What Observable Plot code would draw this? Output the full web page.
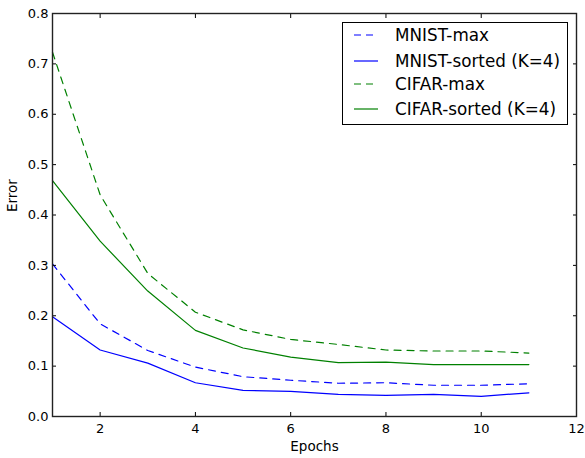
<!DOCTYPE html>
<html>
<head>
<meta charset="utf-8">
<script src="https://cdn.jsdelivr.net/npm/d3@7"></script>
<script src="https://cdn.jsdelivr.net/npm/@observablehq/plot@0.6"></script>
<style>
  html, body { margin: 0; padding: 0; background: #fff; }
  #wrap { position: relative; width: 585px; height: 458px; font-family: "DejaVu Sans", sans-serif; }
  #legend { position: absolute; left: 342px; top: 22px; width: 224px; height: 101px; border: 1px solid #000; background: #fff; box-sizing: content-box; }
  .row { position: absolute; left: 0; height: 20px; display: flex; align-items: center; }
  .row svg { margin-left: 11px; }
  .row span { margin-left: 17px; font-size: 16.8px; color: #000; white-space: nowrap; }
</style>
</head>
<body>
<div id="wrap"></div>
<script>
const epochs = [1, 2, 3, 4, 5, 6, 7, 8, 9, 10, 11];
const mnistMax    = [0.303, 0.184, 0.131, 0.098, 0.079, 0.072, 0.066, 0.067, 0.062, 0.062, 0.065];
const mnistSorted = [0.198, 0.132, 0.106, 0.067, 0.052, 0.050, 0.044, 0.042, 0.044, 0.040, 0.047];
const cifarMax    = [0.723, 0.440, 0.284, 0.207, 0.172, 0.153, 0.143, 0.132, 0.130, 0.130, 0.126];
const cifarSorted = [0.468, 0.348, 0.249, 0.171, 0.136, 0.118, 0.107, 0.108, 0.103, 0.103, 0.103];
const seriesNames = ["MNIST-max", "MNIST-sorted (K=4)", "CIFAR-max", "CIFAR-sorted (K=4)"];
const seriesColors = ["#0000ff", "#0000ff", "#008000", "#008000"];
const seriesDashed = [true, false, true, false];
const xTicks = [2, 4, 6, 8, 10, 12];
const yTicks = [0, 0.1, 0.2, 0.3, 0.4, 0.5, 0.6, 0.7, 0.8];

const seriesValues = [mnistMax, mnistSorted, cifarMax, cifarSorted];
const rows = [];
seriesValues.forEach((vals, s) => vals.forEach((v, i) => rows.push({series: seriesNames[s], epoch: epochs[i], error: v})));

const lineMarks = seriesNames.map((name, s) =>
  Plot.line(rows.filter(d => d.series === name), {
    x: "epoch", y: "error",
    stroke: seriesColors[s], strokeWidth: 1.2,
    strokeDasharray: seriesDashed[s] ? "7,6" : null
  })
);

const chart = Plot.plot({
  width: 585, height: 458,
  marginLeft: 52, marginRight: 9, marginTop: 13, marginBottom: 42,
  style: {fontFamily: "DejaVu Sans, sans-serif", fontSize: "13px", color: "#000", background: "#fff"},
  x: {domain: [1, 12]},
  y: {domain: [0, 0.8]},
  marks: [
    ...lineMarks,
    Plot.axisX({anchor: "bottom", ticks: xTicks, tickSize: -4, tickPadding: 11, tickFormat: d3.format("d"), label: null, fontSize: 13}),
    Plot.axisX({anchor: "top", ticks: xTicks, tickSize: -4, tickFormat: () => "", label: null}),
    Plot.axisY({anchor: "left", ticks: yTicks, tickSize: -4, tickPadding: 8, tickFormat: d3.format(".1f"), label: null, fontSize: 13}),
    Plot.axisY({anchor: "right", ticks: yTicks, tickSize: -4, tickFormat: () => "", label: null}),
    Plot.frame({stroke: "#222", strokeWidth: 1.4}),
    Plot.text(["Epochs"], {frameAnchor: "bottom", dy: 34, fontSize: 13.5, fill: "#000"}),
    Plot.text(["Error"], {frameAnchor: "left", dx: -40, dy: -3, rotate: -90, fontSize: 13.5, fill: "#000"})
  ]
});

const wrap = document.getElementById("wrap");
wrap.appendChild(chart);

const legend = document.createElement("div");
legend.id = "legend";
const rowTops = [2, 28, 51, 76];
seriesNames.forEach((name, s) => {
  const row = document.createElement("div");
  row.className = "row";
  row.style.top = rowTops[s] + "px";
  row.innerHTML = `<svg width="24" height="4"><line x1="0" y1="2" x2="24" y2="2" stroke="${seriesColors[s]}" stroke-width="1.2" ${seriesDashed[s] ? 'stroke-dasharray="7,5"' : ""}/></svg><span>${name}</span>`;
  legend.appendChild(row);
});
wrap.appendChild(legend);
</script>
</body>
</html>
